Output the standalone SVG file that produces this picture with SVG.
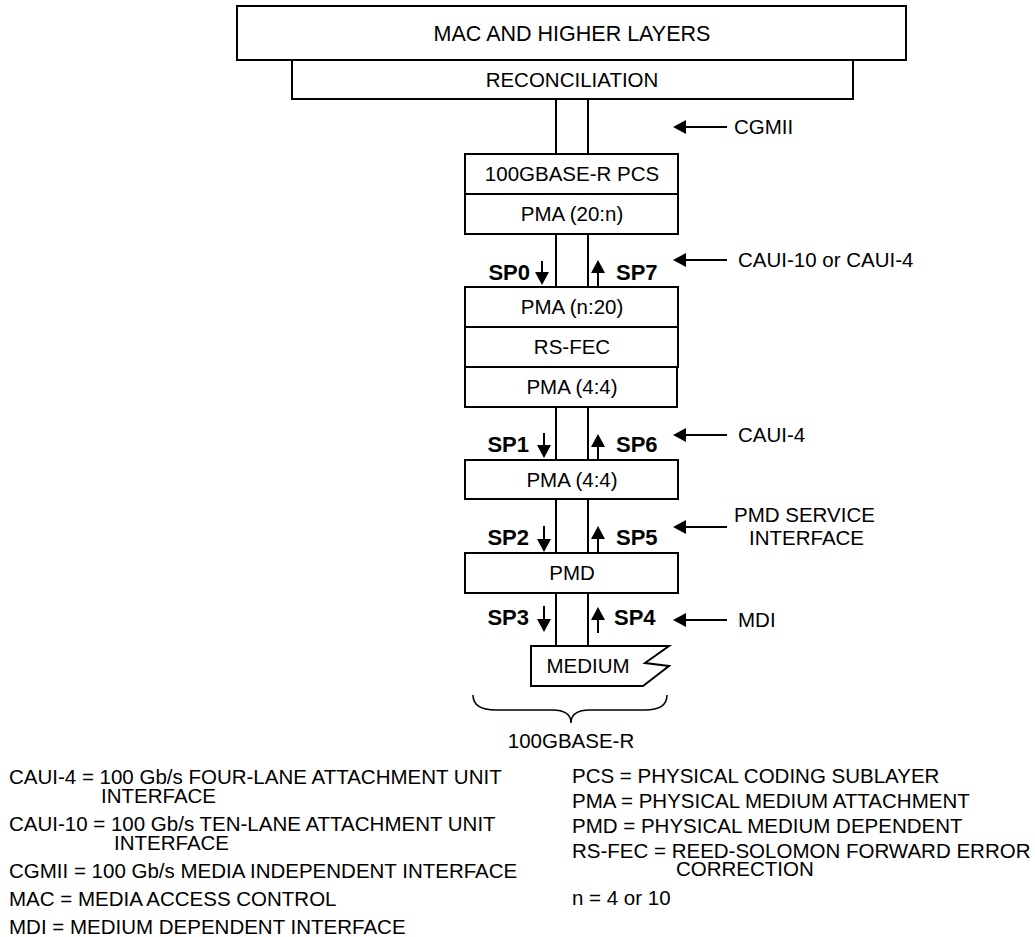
<svg xmlns="http://www.w3.org/2000/svg" width="1035" height="937" viewBox="0 0 1035 937">
<defs>
<style>
.box{fill:#fff;stroke:#000;stroke-width:2}
.ln{stroke:#000;stroke-width:2;fill:none}
.ar{stroke:#000;stroke-width:2;fill:none;marker-end:url(#ah)}
.t{font-family:"Liberation Sans",Arial,sans-serif;font-size:20.5px;fill:#000}
.c{text-anchor:middle}
.sp{font-family:"Liberation Sans",Arial,sans-serif;font-size:22px;font-weight:bold;fill:#000}
.e{text-anchor:end}
</style>
<marker id="ah" viewBox="0 0 13 14" refX="11" refY="7" markerWidth="13" markerHeight="14" markerUnits="userSpaceOnUse" orient="auto">
<path d="M0,0 L13,7 L0,14 z" fill="#000"/>
</marker>
</defs>
<rect width="1035" height="937" fill="#fff"/>

<g id="connectors">
<line class="ln" x1="556" y1="99" x2="556" y2="154"/>
<line class="ln" x1="588" y1="99" x2="588" y2="154"/>
<line class="ln" x1="556" y1="234" x2="556" y2="287"/>
<line class="ln" x1="588" y1="234" x2="588" y2="287"/>
<line class="ln" x1="556" y1="407" x2="556" y2="460"/>
<line class="ln" x1="588" y1="407" x2="588" y2="460"/>
<line class="ln" x1="556" y1="499" x2="556" y2="553"/>
<line class="ln" x1="588" y1="499" x2="588" y2="553"/>
<line class="ln" x1="556" y1="593" x2="556" y2="646"/>
<line class="ln" x1="588" y1="593" x2="588" y2="646"/>
<line class="ar" x1="542" y1="261" x2="542" y2="283"/>
<line class="ar" x1="598" y1="287" x2="598" y2="262"/>
<line class="ar" x1="544" y1="433" x2="544" y2="456"/>
<line class="ar" x1="598" y1="459" x2="598" y2="436"/>
<line class="ar" x1="544" y1="526" x2="544" y2="550"/>
<line class="ar" x1="598" y1="553" x2="598" y2="528"/>
<line class="ar" x1="544" y1="606" x2="544" y2="630"/>
<line class="ar" x1="598" y1="633" x2="598" y2="609"/>
<line class="ar" x1="727" y1="127" x2="675" y2="127"/>
<line class="ar" x1="727" y1="260" x2="675" y2="260"/>
<line class="ar" x1="727" y1="435" x2="675" y2="435"/>
<line class="ar" x1="727" y1="527" x2="675" y2="527"/>
<line class="ar" x1="727" y1="620" x2="675" y2="620"/>
</g>

<g id="mac"><rect class="box" x="237" y="6" width="669" height="54"/><text class="t c" x="572" y="41" style="font-size:21.5px">MAC AND HIGHER LAYERS</text></g>
<g id="reconciliation"><rect class="box" x="292" y="60" width="561" height="39"/><text class="t c" x="572" y="87">RECONCILIATION</text></g>
<g id="pcs"><rect class="box" x="465" y="154" width="213" height="40"/><text class="t c" x="572" y="181">100GBASE-R PCS</text></g>
<g id="pma20n"><rect class="box" x="465" y="194" width="213" height="40"/><text class="t c" x="572" y="221">PMA (20:n)</text></g>
<g id="pman20"><rect class="box" x="465" y="287" width="213" height="40"/><text class="t c" x="572" y="314">PMA (n:20)</text></g>
<g id="rsfec"><rect class="box" x="465" y="327" width="213" height="40"/><text class="t c" x="572" y="354">RS-FEC</text></g>
<g id="pma44a"><rect class="box" x="465" y="367" width="212" height="40"/><text class="t c" x="572" y="394">PMA (4:4)</text></g>
<g id="pma44b"><rect class="box" x="465" y="460" width="213" height="39"/><text class="t c" x="572" y="487">PMA (4:4)</text></g>
<g id="pmd"><rect class="box" x="465" y="553" width="213" height="40"/><text class="t c" x="572" y="580">PMD</text></g>
<g id="medium"><path class="box" d="M531,646 L669,646 L645,663 L669,666 L643,686 L531,686 Z"/><text class="t c" x="588" y="673">MEDIUM</text></g>

<g id="sp-labels">
<text class="sp e" x="530" y="280">SP0</text>
<text class="sp" x="616" y="280">SP7</text>
<text class="sp e" x="529" y="452">SP1</text>
<text class="sp" x="616" y="452">SP6</text>
<text class="sp e" x="529" y="545">SP2</text>
<text class="sp" x="616" y="545">SP5</text>
<text class="sp e" x="529" y="625">SP3</text>
<text class="sp" x="614" y="625">SP4</text>
</g>

<g id="interface-labels">
<text class="t" x="734" y="134">CGMII</text>
<text class="t" x="738" y="267">CAUI-10 or CAUI-4</text>
<text class="t" x="738" y="442">CAUI-4</text>
<text class="t" x="734" y="522">PMD SERVICE<tspan x="749" dy="23">INTERFACE</tspan></text>
<text class="t" x="738" y="627">MDI</text>
</g>

<g id="brace">
<path d="M473,695 C473,705 480,710 496,710 L552,710 C565,710 571,715 571,723 C571,715 577,710 590,710 L645,710 C660,710 667,705 667,695" fill="none" stroke="#000" stroke-width="1.5"/>
<text class="t c" x="571" y="748">100GBASE-R</text>
</g>

<g id="legend">
<text class="t" x="9" y="784">CAUI-4 = 100 Gb/s FOUR-LANE ATTACHMENT UNIT<tspan x="101" dy="19">INTERFACE</tspan></text>
<text class="t" x="9" y="831">CAUI-10 = 100 Gb/s TEN-LANE ATTACHMENT UNIT<tspan x="114" dy="19">INTERFACE</tspan></text>
<text class="t" x="9" y="878">CGMII = 100 Gb/s MEDIA INDEPENDENT INTERFACE</text>
<text class="t" x="9" y="906">MAC = MEDIA ACCESS CONTROL</text>
<text class="t" x="9" y="934">MDI = MEDIUM DEPENDENT INTERFACE</text>
<text class="t" x="572" y="783">PCS = PHYSICAL CODING SUBLAYER</text>
<text class="t" x="572" y="808">PMA = PHYSICAL MEDIUM ATTACHMENT</text>
<text class="t" x="572" y="833">PMD = PHYSICAL MEDIUM DEPENDENT</text>
<text class="t" x="572" y="858">RS-FEC = REED-SOLOMON FORWARD ERROR<tspan x="676" dy="18">CORRECTION</tspan></text>
<text class="t" x="572" y="905">n = 4 or 10</text>
</g>
</svg>
